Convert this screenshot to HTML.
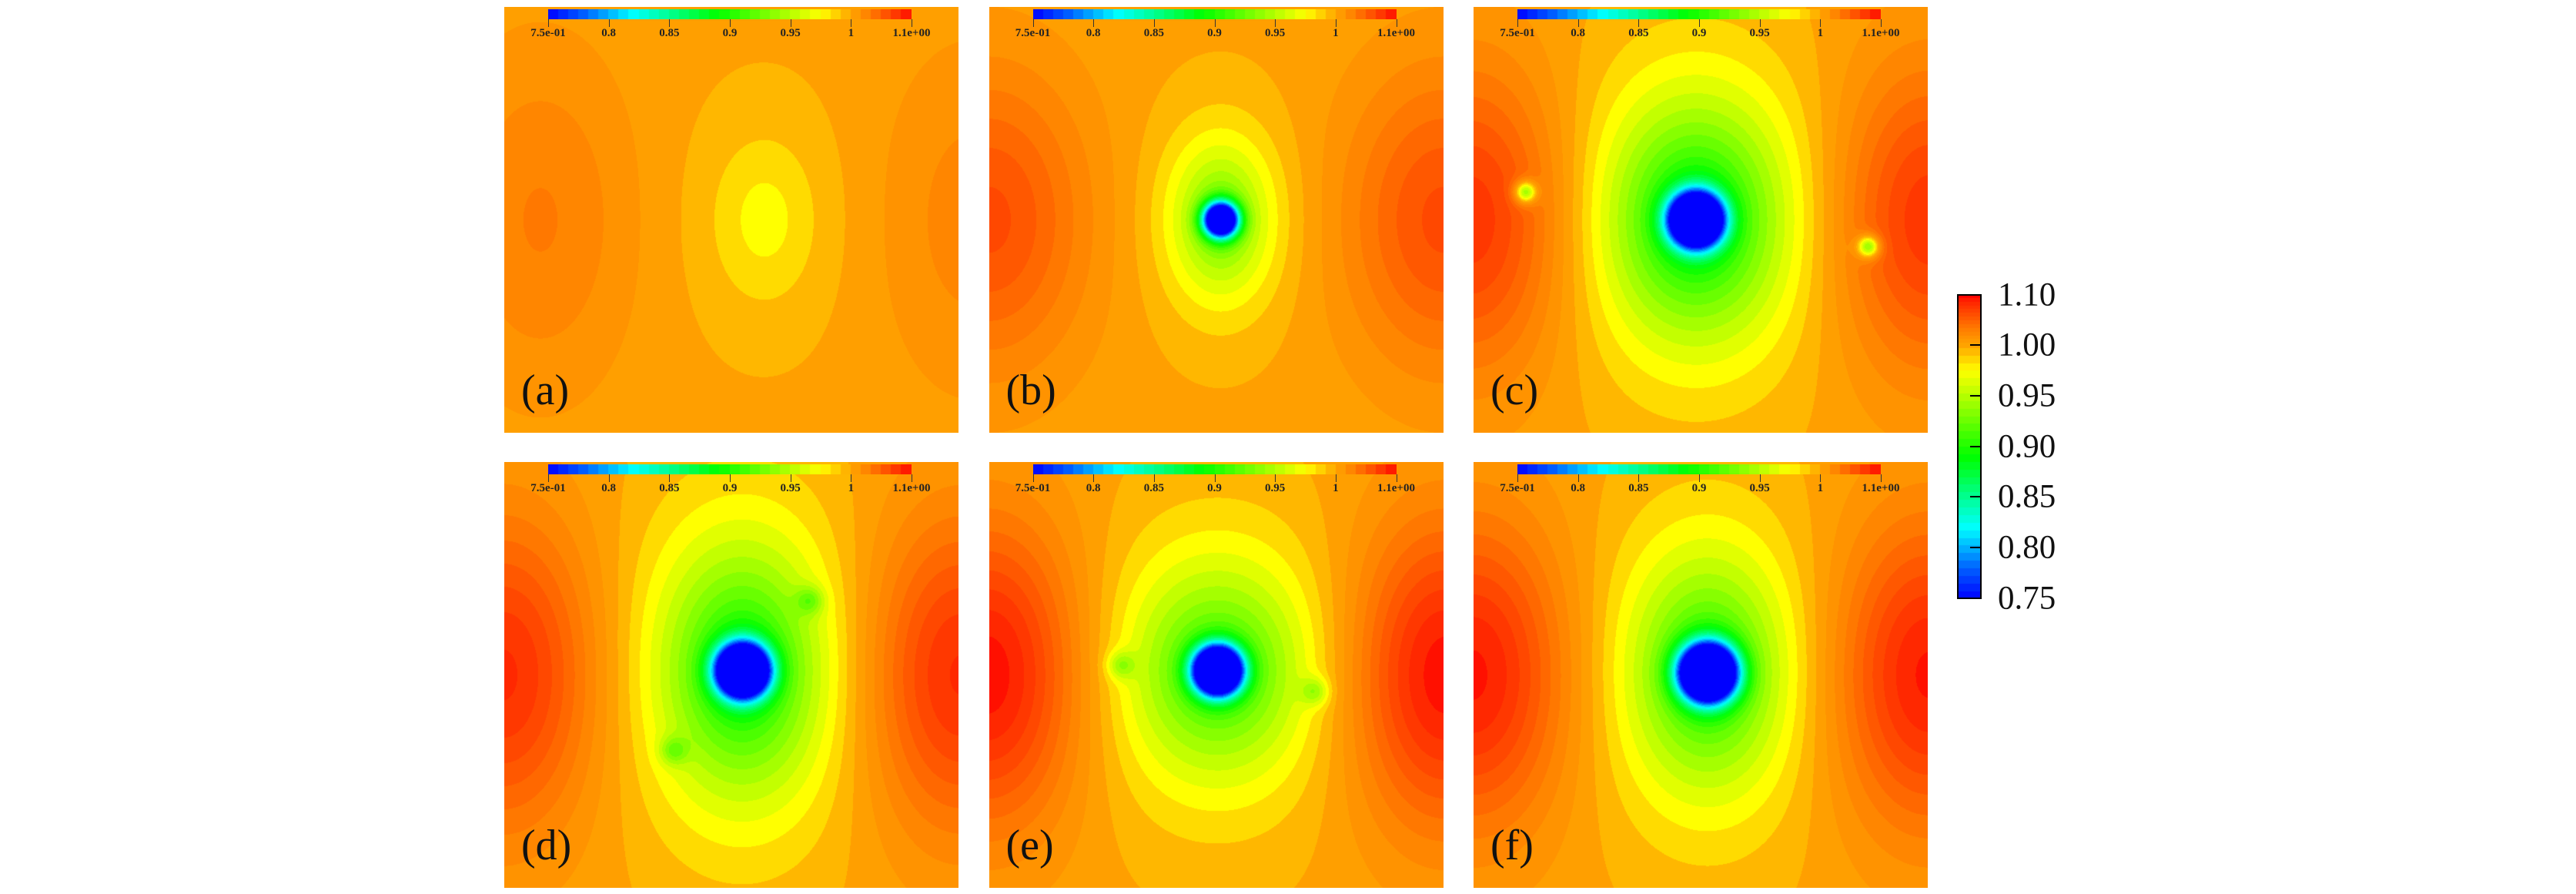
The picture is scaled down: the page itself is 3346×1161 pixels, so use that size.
<!DOCTYPE html>
<html><head><meta charset="utf-8">
<style>
html,body{margin:0;padding:0;background:#fff;}
body{width:3346px;height:1161px;position:relative;overflow:hidden;font-family:"Liberation Serif",serif;}
.panel{position:absolute;width:590px;height:553px;}
.panel canvas.fld{position:absolute;left:0;top:0;}
.panel canvas.pcb{position:absolute;left:57px;top:3px;}
.ptick{position:absolute;top:16px;width:1px;height:10px;background:#333;}
.plab{position:absolute;top:26px;font:bold 15px "Liberation Serif",serif;color:#222;transform:translateX(-50%);white-space:nowrap;}
.letter{position:absolute;left:22px;top:466px;font:56px "Liberation Serif",serif;color:#111;}
.cbl{position:absolute;left:2595px;font:43px "Liberation Serif",serif;color:#111;transform:translateY(-50%);line-height:1;}
</style></head>
<body>
<div id="fig"></div>
<div id="cbar" style="position:absolute;left:2543px;top:383px;width:30px;height:394px;">
  <canvas id="cbc" width="30" height="394" style="position:absolute;left:0;top:0;"></canvas>
  <div style="position:absolute;left:-1px;top:-1px;width:28px;height:392px;border:2px solid #000;"></div>
</div>
<script>
// ---- data ----
const panelLabels = ['(a)','(b)','(c)','(d)','(e)','(f)'];
const baseLevel   = [1.003, 1.003, 1.003, 1.003, 1.003, 1.003];
const leftPeak    = [0.028, 0.06, 0.075, 0.08, 0.095, 0.09];
const leftPeakX   = [0.08, 0.0, 0.0, 0.0, 0.0, 0.0];
const rightPeak   = [0.022, 0.06, 0.075, 0.08, 0.095, 0.09];
const rightPeakX  = [1.03, 1.0, 1.0, 1.0, 1.0, 1.0];
const peakWidthX  = [0.2, 0.21, 0.2, 0.2, 0.2, 0.2];
const peakWidthY  = [0.37, 0.32, 0.33, 0.34, 0.33, 0.33];
const centerX     = [0.573, 0.51, 0.49, 0.525, 0.503, 0.516];
const centerY     = [0.50, 0.5, 0.50, 0.49, 0.49, 0.495];
const centerDip   = [0.03, 0.09, 0.14, 0.13, 0.11, 0.12];
const dipWidthX   = [0.13, 0.108, 0.19, 0.18, 0.2, 0.17];
const dipWidthY   = [0.2, 0.165, 0.25, 0.27, 0.23, 0.25];
const coreDepth   = [0, 0.35, 0.45, 0.45, 0.45, 0.476];
const coreRadius  = [0.05, 0.037, 0.054, 0.054, 0.05, 0.058];
const bumpPanel   = [2, 2, 3, 3, 4, 4];
const bumpX       = [0.114, 0.87, 0.673, 0.373, 0.29, 0.717];
const bumpY       = [0.435, 0.563, 0.325, 0.678, 0.477, 0.539];
const bumpAmp     = [-0.1, -0.1, -0.04, -0.04, -0.04, -0.04];
const bumpRadius  = [0.025, 0.025, 0.03, 0.03, 0.03, 0.03];
const tickValues  = [0.75, 0.8, 0.85, 0.9, 0.95, 1.0, 1.1];
const tickLabels  = ['7.5e-01','0.8','0.85','0.9','0.95','1','1.1e+00'];
const mainTickValues = [1.10, 1.00, 0.95, 0.90, 0.85, 0.80, 0.75];
const mainTickLabels = ['1.10','1.00','0.95','0.90','0.85','0.80','0.75'];
const cmapV = [0.75,0.78,0.82,0.89,0.95,0.975,1.0,1.03,1.06,1.09,1.1];
const cmapC = [[0,0,255],[0,96,255],[0,255,255],[0,255,0],[180,255,0],[255,255,0],[255,165,0],[255,128,0],[255,80,0],[255,32,0],[255,0,0]];

// ---- layout ----
const PW = 590, PH = 553;
const colX = [655, 1284.5, 1914];
const rowY = [9, 600];

function color(v){
  if (v <= cmapV[0]) return cmapC[0];
  for (let i=1;i<cmapV.length;i++){
    if (v <= cmapV[i]){
      const t=(v-cmapV[i-1])/(cmapV[i]-cmapV[i-1]);
      const a=cmapC[i-1], b=cmapC[i];
      return [a[0]+(b[0]-a[0])*t, a[1]+(b[1]-a[1])*t, a[2]+(b[2]-a[2])*t];
    }
  }
  return cmapC[cmapC.length-1];
}
function field(i, x, y){
  const yr = PH/PW;
  let v = baseLevel[i];
  const py = 0.5*yr;
  let dx=(x-leftPeakX[i])/peakWidthX[i], dy=(y*yr-py)/peakWidthY[i];
  v += leftPeak[i]*Math.exp(-(dx*dx+dy*dy));
  dx=(x-rightPeakX[i])/peakWidthX[i];
  v += rightPeak[i]*Math.exp(-(dx*dx+dy*dy));
  const cx=x-centerX[i], cy=(y-centerY[i])*yr;
  dx=cx/dipWidthX[i]; dy=cy/dipWidthY[i];
  v -= centerDip[i]*Math.exp(-Math.pow(dx*dx+dy*dy,0.75));
  const r2=(cx*cx+cy*cy)/(coreRadius[i]*coreRadius[i]);
  v -= coreDepth[i]*Math.exp(-r2);
  for (let k=0;k<bumpPanel.length;k++){
    if (bumpPanel[k]!==i) continue;
    const bx=x-bumpX[k], by=(y-bumpY[k])*yr;
    v += bumpAmp[k]*Math.exp(-(bx*bx+by*by)/(bumpRadius[k]*bumpRadius[k]));
  }
  return v;
}
function quant(v){ return Math.floor(v/0.01)*0.01+0.005; }
function barPos(v){ return v<=1.0 ? (v-0.75)/0.05/6 : 5/6+(v-1.0)/0.1/6; }
function barVal(p){ return p<5/6 ? 0.75+p*6*0.05 : 1.0+(p-5/6)*6*0.1; }

const fig=document.getElementById('fig');
for (let i=0;i<panelLabels.length;i++){
  const p=document.createElement('div');
  p.className='panel';
  
  
  p.style.left=colX[i%3]+'px'; p.style.top=rowY[Math.floor(i/3)]+'px';
  const c=document.createElement('canvas'); c.width=PW; c.height=PH; c.className='fld';
  
  
  const ctx=c.getContext('2d'); const img=ctx.createImageData(PW,PH); const d=img.data;
  for (let yy=0;yy<PH;yy++) for (let xx=0;xx<PW;xx++){
    const col=color(quant(field(i,(xx+0.5)/PW,(yy+0.5)/PH)));
    const o=(yy*PW+xx)*4; d[o]=col[0]; d[o+1]=col[1]; d[o+2]=col[2]; d[o+3]=255;
  }
  ctx.putImageData(img,0,0);
  p.appendChild(c);
  const BW=472, BH=13;
  const cb=document.createElement('canvas'); cb.width=BW; cb.height=BH; cb.className='pcb';
  
  
  const bctx=cb.getContext('2d');
  const steps=36;
  for (let s=0;s<steps;s++){
    const col=color(barVal((s+0.5)/steps));
    bctx.fillStyle='rgb('+col.map(Math.round).join(',')+')';
    bctx.fillRect(Math.floor(s*BW/steps),0,Math.ceil(BW/steps)+1,BH);
  }
  p.appendChild(cb);
  for (let t=0;t<tickValues.length;t++){
    const xp=57+barPos(tickValues[t])*BW;
    const tk=document.createElement('div'); tk.className='ptick'; tk.style.left=xp+'px';
    
    
    p.appendChild(tk);
    const lb=document.createElement('div'); lb.className='plab'; lb.style.left=xp+'px'; lb.textContent=tickLabels[t];
    
    
    p.appendChild(lb);
  }
  const L=document.createElement('div'); L.className='letter'; L.textContent=panelLabels[i];
  
  
  p.appendChild(L);
  fig.appendChild(p);
}
const CB_H=394, CB_TOP=383;
function mainY(v){ return v>=1.0 ? (1.10-v)/0.10*65 : 65+(1.0-v)/0.25*329; }
const cbc=document.getElementById('cbc').getContext('2d');
for (let y=0;y<CB_H;y++){
  const v = y<65 ? 1.10-y/65*0.10 : 1.0-(y-65)/329*0.25;
  const col=color(Math.floor(v/0.0075)*0.0075+0.004);
  cbc.fillStyle='rgb('+col.map(Math.round).join(',')+')';
  cbc.fillRect(0,y,30,1);
}
const cbar=document.getElementById('cbar');
for (let t=0;t<mainTickValues.length;t++){
  const yv=mainY(mainTickValues[t]);
  if (t>0 && t<mainTickValues.length-1){
    const tk=document.createElement('div');
    
    
    tk.style.cssText='position:absolute;left:16px;width:13px;height:2px;background:#000;top:'+(yv-1)+'px;';
    cbar.appendChild(tk);
  }
  const lb=document.createElement('div'); lb.className='cbl';
  
  
  lb.style.top=(CB_TOP+yv)+'px'; lb.textContent=mainTickLabels[t];
  document.body.appendChild(lb);
}
</script>
</body></html>
